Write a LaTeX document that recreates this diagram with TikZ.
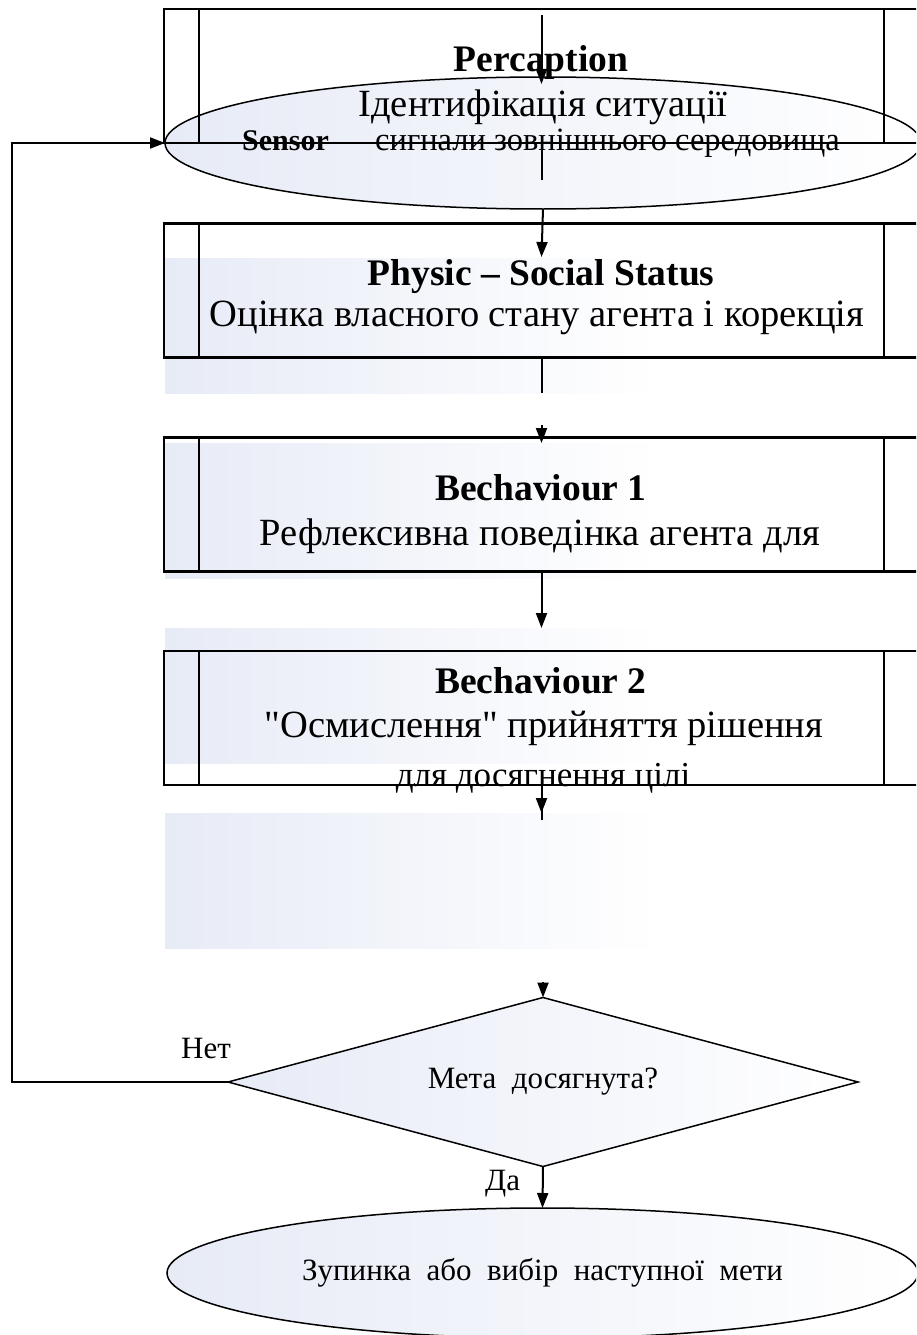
\documentclass[tikz,border=0pt]{standalone}
\usepackage{fontspec}
\setmainfont{Liberation Serif}[Ligatures=TeXOff]
\usetikzlibrary{shapes.geometric,arrows.meta}

\colorlet{colorLine}{black}
\definecolor{colorShade}{RGB}{231,235,246}
\tikzset{
   every path/.style={>={Triangle[length=15pt,width=11pt]}},
   proc/.style={draw=colorLine,line width=2.5pt,minimum width=755pt,minimum height=134pt,inner sep=0pt,outer sep=0pt},
   term/.style={ellipse,draw=colorLine,line width=1.5pt,left color=colorShade,right color=white,inner sep=0pt,outer sep=0pt},
   cond/.style={diamond,aspect=3.7,draw=colorLine,line width=1.5pt,left color=colorShade,right color=white,inner sep=0pt,outer sep=0pt},
   flow/.style={->,color=colorLine,line width=2pt},
   link/.style={-,color=colorLine,line width=2pt},
   band/.style={left color=colorShade,right color=white},
   txt/.style={anchor=base,inner sep=0pt},
 }
\newcommand{\subproc}[1]{%
  \draw[line width=2.5pt] ([xshift=35pt]#1.north west) -- ([xshift=35pt]#1.south west);
  \draw[line width=2.5pt] ([xshift=-35pt]#1.north east) -- ([xshift=-35pt]#1.south east)}
\newcommand{\ttl}{\fontsize{37.5}{40}\selectfont\bfseries}
\newcommand{\bodytxt}{\fontsize{38.5}{41}\selectfont}
\newcommand{\smalltxt}{\fontsize{31}{34}\selectfont}

\begin{document}
\begin{tikzpicture}[x=1pt,y=-1pt]
      \useasboundingbox (0,0) rectangle (916,1335);
      \clip (0,0) rectangle (916,1335);
      % shaded bands behind the blocks
      \foreach \y in {258,443,628,813}
        \shade[band] (165,\y) rectangle (660,\y+135);

      \node[term,minimum width=756pt,minimum height=132pt] (sensor) at (543,143) {};
      \node[proc] (perc) at (541.5,76) {};
      \subproc{perc};
      \node[proc] (phys) at (541.5,290.5) {};
      \subproc{phys};
      \node[proc] (beh1) at (541.5,504.5) {};
      \subproc{beh1};
      \node[proc] (beh2) at (541.5,718) {};
      \subproc{beh2};
      \node[cond,minimum width=630pt,minimum height=169pt] (cond) at (543,1082) {\smalltxt Мета\ \ досягнута?};
      \node[term,minimum width=751pt,minimum height=130pt] (stop) at (542.5,1273) {\smalltxt Зупинка\ \ або\ \ вибір\ \ наступної\ \ мети};

      \coordinate (topin) at (541.5,15);
      \coordinate (percin) at (541.5,84);
      \coordinate (percstub) at (541.5,180);
      \coordinate (physin) at (541.5,257);
      \coordinate (physstub) at (541.5,393);
      \coordinate (beh1top) at (541.5,425);
      \coordinate (beh1in) at (541.5,443);
      \coordinate (beh2in) at (541.5,628);
      \coordinate (beh2out) at (541.5,813);
      \coordinate (beh2stub) at (541.5,820);
      \coordinate (condtop) at (543,982);
      \coordinate (loopx) at (12,0);

      \draw[flow] (topin) -- (percin);
      \draw[link] (perc.south) -- (percstub);
      \draw[flow] (sensor.south) -- (physin);
      \draw[link] (phys.south) -- (physstub);
      \draw[flow] (beh1top) -- (beh1in);
      \draw[flow] (beh1.south) -- (beh2in);
      \draw[link] (beh2.south) -- (beh2stub);
      \draw[flow] (beh2.south) -- (beh2out);
      \draw[flow] (condtop) -- (cond.north);
      \draw[flow] (cond.south) -- (stop.north);
      \draw[flow] (cond.west) -- (cond.west -| loopx) |- (sensor.west);

      \node[txt] (percT) at (541,72) {\ttl Percaption};
      \node[txt] (percS) at (543,117) {\bodytxt Ідентифікація ситуації};
      \node[txt,anchor=base west] (sensT) at (242,150) {\fontsize{30}{32}\selectfont\bfseries Sensor};
      \node[txt,anchor=base west] (sensS) at (375,150) {\fontsize{32.5}{35}\selectfont сигнали зовнішнього середовища};
      \node[txt] (physT) at (541,285) {\ttl Physic – Social Status};
      \node[txt] (physS) at (537,326) {\bodytxt Оцінка власного стану агента і корекція};
      \node[txt] (beh1T) at (541,500) {\ttl Bechaviour 1};
      \node[txt] (beh1S) at (540,545) {\bodytxt Рефлексивна поведінка агента для};
      \node[txt] (beh2T) at (541,693) {\ttl Bechaviour 2};
      \node[txt] (beh2S) at (544,737) {\bodytxt "Осмислення" прийняття рішення};
      \node[txt] (beh2U) at (543,786) {\fontsize{35}{38}\selectfont для досягнення цілі};
      \node[txt,anchor=base west] (no) at (181,1058) {\smalltxt Нет};
      \node[txt,anchor=base west] (yes) at (485,1190) {\smalltxt Да};
    \end{tikzpicture}
\end{document}
